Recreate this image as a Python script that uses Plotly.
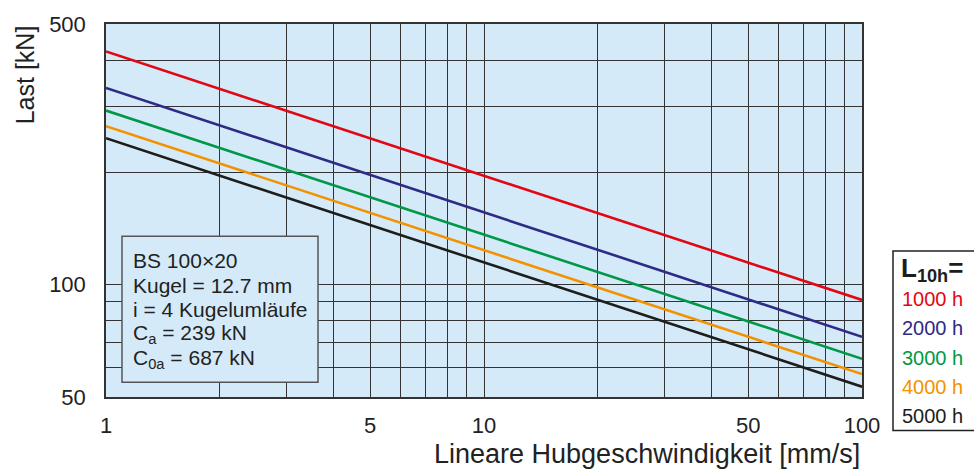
import plotly.graph_objects as go

# Lineare Hubgeschwindigkeit [mm/s] (end points, lines are straight in log-log)
speed = [1, 100]
# Last [kN] at v=1 and v=100
last_1000h = [422, 91]
last_2000h = [337, 72.5]
last_3000h = [293, 63.3]
last_4000h = [266, 57.6]
last_5000h = [247, 53.3]

series = [
    ("1000 h", last_1000h, "#e30613"),
    ("2000 h", last_2000h, "#2e2a85"),
    ("3000 h", last_3000h, "#009846"),
    ("4000 h", last_4000h, "#f39200"),
    ("5000 h", last_5000h, "#1d1d1b"),
]

x_grid = [1, 2, 3, 4, 5, 6, 7, 8, 9, 10, 20, 30, 40, 50, 60, 70, 80, 90, 100]
x_ticks = [1, 5, 10, 50, 100]
y_grid = [50, 60, 70, 80, 90, 100, 200, 300, 400, 500]
y_ticks = [50, 100, 500]

info_lines = ["BS 100×20", "Kugel = 12.7 mm", "i = 4 Kugelumläufe",
              "C<sub>a</sub> = 239 kN", "C<sub>0a</sub> = 687 kN"]

W, H = 974, 469
L, R, T, B = 106, 862, 19, 397
FONT = "Liberation Sans, Arial, sans-serif"
BG = "#d5eaf8"
GRID = "#333"


def px(x):
    return (x - L) / (R - L)


def py(y):
    return (B - y) / (B - T)


fig = go.Figure()
for name, vals, col in series:
    fig.add_trace(go.Scatter(x=speed, y=vals, mode="lines", name=name,
                             line=dict(color=col, width=2.6), showlegend=False))

fig.update_xaxes(type="log", range=[0, 2], tickvals=x_ticks,
                 ticktext=[str(v) for v in x_ticks],
                 showgrid=True, gridcolor=GRID, gridwidth=1,
                 minor=dict(tickvals=x_grid, showgrid=True, gridcolor=GRID, gridwidth=1, ticks=""),
                 showline=True, mirror=True, linecolor="#333", linewidth=1.5,
                 ticks="", ticklabelstandoff=8, zeroline=False,
                 tickfont=dict(size=22, color="#222"))
fig.update_yaxes(type="log", range=[1.69897, 2.69897], tickvals=y_ticks,
                 ticktext=[str(v) for v in y_ticks],
                 showgrid=True, gridcolor=GRID, gridwidth=1,
                 minor=dict(tickvals=y_grid, showgrid=True, gridcolor=GRID, gridwidth=1, ticks=""),
                 showline=True, mirror=True, linecolor="#333", linewidth=1.5,
                 ticks="", ticklabelstandoff=14, zeroline=False,
                 tickfont=dict(size=22, color="#222"))

ann = []
# axis titles
ann.append(dict(text="Lineare Hubgeschwindigkeit [mm/s]", xref="paper", yref="paper",
                x=1, y=py(455), xanchor="right", yanchor="middle", showarrow=False,
                font=dict(size=27, color="#222")))
ann.append(dict(text="Last [kN]", xref="paper", yref="paper", textangle=-90,
                x=px(25), y=py(71), xanchor="center", yanchor="middle", showarrow=False,
                font=dict(size=25, color="#222")))

# info box text
for i, t in enumerate(info_lines):
    ann.append(dict(text=t, xref="paper", yref="paper", x=px(131), y=py(259 + 24.8 * i),
                    xanchor="left", yanchor="middle", showarrow=False,
                    font=dict(size=21, color="#222")))

# legend box text
ann.append(dict(text="<b>L<sub>10h</sub>=</b>", xref="paper", yref="paper",
                x=px(899), y=py(268), xanchor="left", yanchor="middle", showarrow=False,
                font=dict(size=26, color="#1d1d1b")))
for i, (name, vals, col) in enumerate(series):
    ann.append(dict(text=name, xref="paper", yref="paper", x=px(900), y=py(298 + 29.5 * i),
                    xanchor="left", yanchor="middle", showarrow=False,
                    font=dict(size=20, color=col)))

shapes = [
    dict(type="rect", xref="paper", yref="paper", x0=px(122), x1=px(318),
         y0=py(382), y1=py(234), fillcolor=BG, line=dict(color="#555", width=1.5),
         layer="above"),
    dict(type="rect", xref="paper", yref="paper", x0=px(893), x1=px(985),
         y0=py(431), y1=py(249), fillcolor="white", line=dict(color="#222", width=1.5)),
]

fig.update_layout(width=W, height=H, margin=dict(l=L, r=W - R, t=T, b=H - B),
                  plot_bgcolor=BG, paper_bgcolor="white",
                  font=dict(family=FONT, color="#222"),
                  annotations=ann, shapes=shapes)

fig.write_html("out.html", config={"displayModeBar": False},
               post_script="document.body.style.margin='0';")
